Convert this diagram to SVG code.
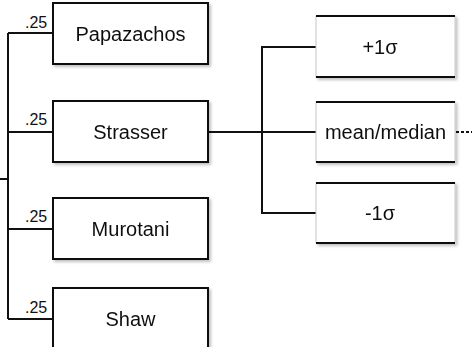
<svg xmlns="http://www.w3.org/2000/svg" width="475" height="347" viewBox="0 0 475 347">
  <defs>
    <filter id="soft" x="-10%" y="-10%" width="125%" height="130%">
      <feGaussianBlur in="SourceAlpha" stdDeviation="1.5"/>
      <feOffset dx="1.5" dy="1.5" result="b"/>
      <feComponentTransfer><feFuncA type="linear" slope="0.25"/></feComponentTransfer>
      <feMerge><feMergeNode/><feMergeNode in="SourceGraphic"/></feMerge>
    </filter>
  </defs>
  <style>
    .box { fill: #fff; stroke: #111; stroke-width: 2; }
    .side { fill: #fff; stroke: #c8c8c8; stroke-width: 1; }
    .edge { stroke: #111; stroke-width: 2; }
    .wire { fill: none; stroke: #111; stroke-width: 2; }
    .lbl { font-family: "Liberation Sans", Arial, sans-serif; font-size: 20px; fill: #111; text-anchor: middle; }
    .w { font-family: "Liberation Sans", Arial, sans-serif; font-size: 16px; fill: #111; }
  </style>
  <rect width="475" height="347" fill="#fff"/>

  <!-- connectors -->
  <g id="connectors">
    <path class="wire" d="M0 179 H8 M8 33 V319 M8 33 H53 M8 132 H53 M8 229 H53 M8 319 H53"/>
    <path class="wire" d="M208 132 H316 M316 47 H262 V213 H316"/>
    <path class="wire" d="M456 132 H472" stroke-dasharray="3 2"/>
    <text class="w" x="25" y="28">.25</text>
    <text class="w" x="25" y="125">.25</text>
    <text class="w" x="25" y="222">.25</text>
    <text class="w" x="25" y="313">.25</text>
  </g>

  <!-- models -->
  <g id="papazachos" filter="url(#soft)">
    <rect class="box" x="53" y="3" width="155" height="61"/>
    <text class="lbl" x="130.5" y="41">Papazachos</text>
  </g>
  <g id="strasser" filter="url(#soft)">
    <rect class="box" x="53" y="101" width="155" height="61"/>
    <text class="lbl" x="130.5" y="139">Strasser</text>
  </g>
  <g id="murotani" filter="url(#soft)">
    <rect class="box" x="53" y="198" width="155" height="61"/>
    <text class="lbl" x="130.5" y="236">Murotani</text>
  </g>
  <g id="shaw" filter="url(#soft)">
    <rect class="box" x="53" y="288" width="155" height="70"/>
    <text class="lbl" x="130.5" y="326">Shaw</text>
  </g>

  <!-- branches -->
  <g id="plus1sigma" filter="url(#soft)">
    <rect class="side" x="316" y="16" width="139" height="61"/>
    <path class="edge" d="M316 16 H455 M316 77 H455"/>
    <text class="lbl" x="380" y="54">+1σ</text>
  </g>
  <g id="mean" filter="url(#soft)">
    <rect class="side" x="316" y="102" width="139" height="60"/>
    <path class="edge" d="M316 102 H455 M316 162 H455"/>
    <text class="lbl" x="385.5" y="139">mean/median</text>
  </g>
  <g id="minus1sigma" filter="url(#soft)">
    <rect class="side" x="316" y="183" width="139" height="60"/>
    <path class="edge" d="M316 183 H455 M316 243 H455"/>
    <text class="lbl" x="380" y="220">-1σ</text>
  </g>
</svg>
